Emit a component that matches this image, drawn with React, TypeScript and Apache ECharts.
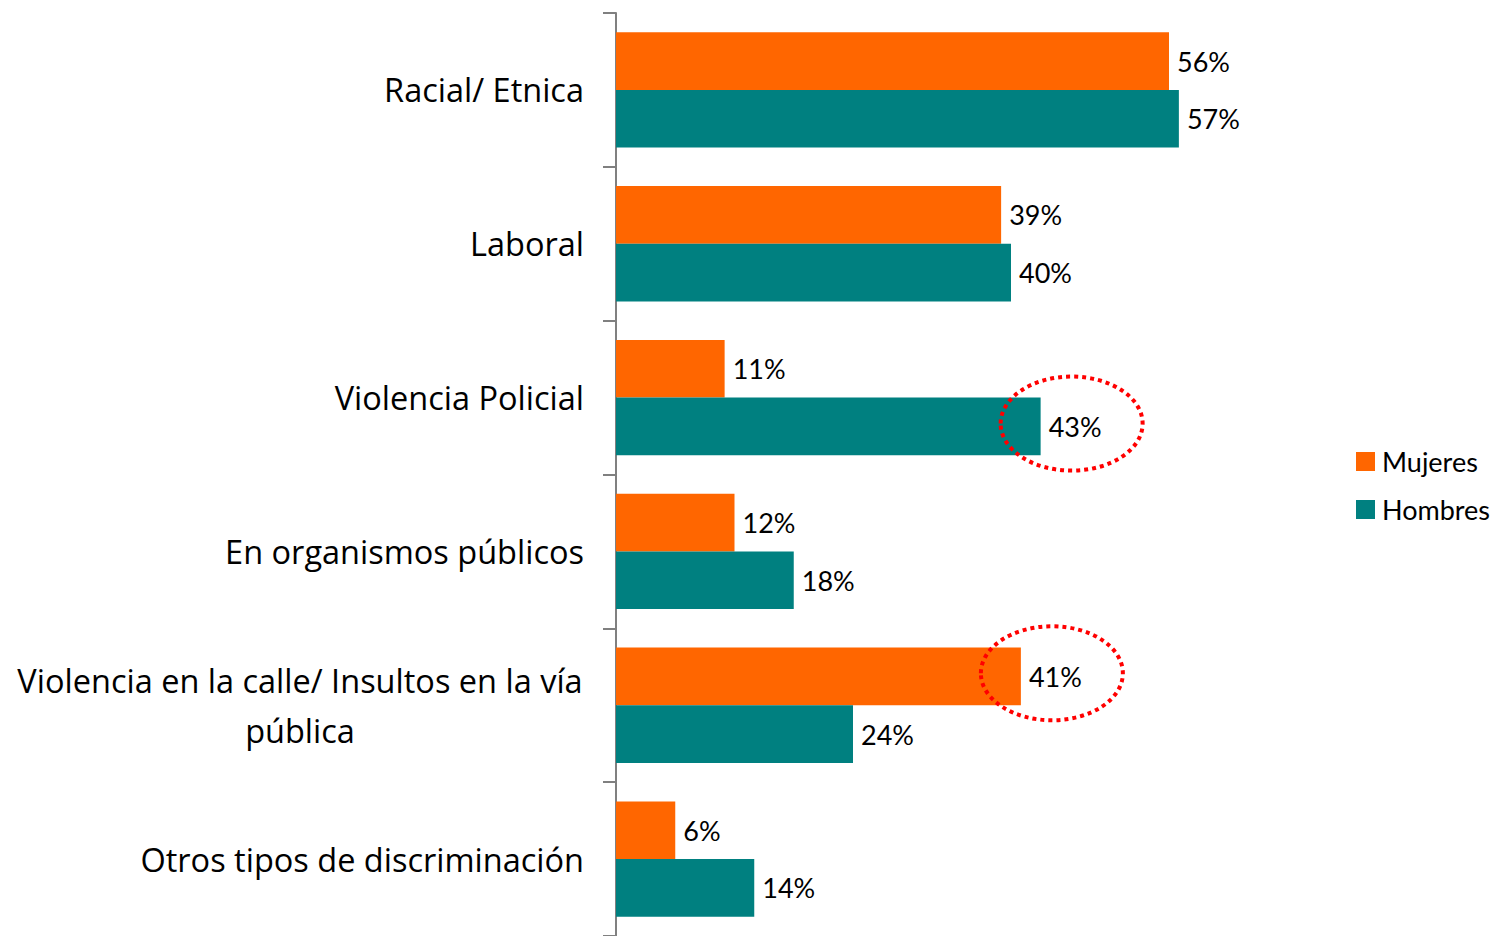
import React, { useEffect, useRef } from "react";
import * as echarts from "echarts";

const categories = [
  "Racial/ Etnica",
  "Laboral",
  "Violencia Policial",
  "En organismos públicos",
  "Violencia en la calle/ Insultos en la vía\npública",
  "Otros tipos de discriminación",
];
const mujeres = [56, 39, 11, 12, 41, 6];
const hombres = [57, 40, 43, 18, 24, 14];
const seriesNames = ["Mujeres", "Hombres"];
const highlights = [
  { series: 1, index: 2 },
  { series: 0, index: 4 },
];

const FONT = "Lato, 'Open Sans', sans-serif";
const CAT_FONT = "'Open Sans', Lato, sans-serif";

export default function App() {
  const ref = useRef<HTMLDivElement>(null);
  useEffect(() => {
    if (!ref.current) return;
    const chart = echarts.init(ref.current, undefined, { renderer: "svg" });
    const labelCfg = {
      show: true,
      position: "right" as const,
      distance: 8,
      formatter: "{c}%",
      fontFamily: FONT,
      fontSize: 27,
      color: "#000",
    };
    chart.setOption({
      animation: false,
      backgroundColor: "#fff",
      legend: {
        orient: "vertical",
        left: 1351,
        top: 443,
        itemWidth: 19,
        itemHeight: 19,
        itemGap: 21,
        icon: "rect",
        textStyle: {
          fontFamily: FONT,
          fontSize: 27,
          color: "#000",
          padding: [0, 0, 0, 2],
        },
        data: seriesNames,
      },
      grid: { left: 616, top: 13, width: 592.5, height: 929 },
      xAxis: {
        type: "value",
        min: 0,
        max: 60,
        show: false,
      },
      yAxis: {
        type: "category",
        inverse: true,
        data: categories,
        axisLine: { show: true, lineStyle: { color: "#808080", width: 2 } },
        axisTick: { show: true, length: 13, lineStyle: { color: "#808080", width: 2 } },
        axisLabel: {
          fontFamily: CAT_FONT,
          fontSize: 32.5,
          color: "#000",
          margin: 32,
          formatter: (v: string) =>
            v.includes("\n")
              ? v
                  .split("\n")
                  .map((l) => "{c|" + l + "}")
                  .join("\n")
              : v,
          rich: {
            c: {
              fontFamily: CAT_FONT,
              fontSize: 32.5,
              color: "#000",
              width: 568,
              align: "center",
              lineHeight: 50,
            },
          },
        },
        splitLine: { show: false },
      },
      series: [
        {
          name: seriesNames[0],
          type: "bar",
          data: mujeres,
          itemStyle: { color: "#FF6600" },
          barGap: "0%",
          barCategoryGap: "25%",
          label: labelCfg,
        },
        {
          name: seriesNames[1],
          type: "bar",
          data: hombres,
          itemStyle: { color: "#008080" },
          barGap: "0%",
          barCategoryGap: "25%",
          label: labelCfg,
        },
      ],
    });
    const data = [mujeres, hombres];
    const graphics = highlights.map((h) => {
      const v = data[h.series][h.index];
      const p = chart.convertToPixel({ gridIndex: 0 }, [v, h.index]) as number[];
      const barOffset = h.series === 0 ? -29 : 29;
      return {
        type: "ellipse",
        shape: { cx: p[0] + 31, cy: p[1] + barOffset - 3, rx: 71, ry: 47 },
        style: { fill: "none", stroke: "#FF0000", lineWidth: 4, lineDash: [4, 4] },
        z: 10,
      };
    });
    chart.setOption({ graphic: graphics });
    return () => chart.dispose();
  }, []);
  return (
    <div
      ref={ref}
      style={{ position: "absolute", left: 0, top: 0, width: 1494, height: 936 }}
    />
  );
}
